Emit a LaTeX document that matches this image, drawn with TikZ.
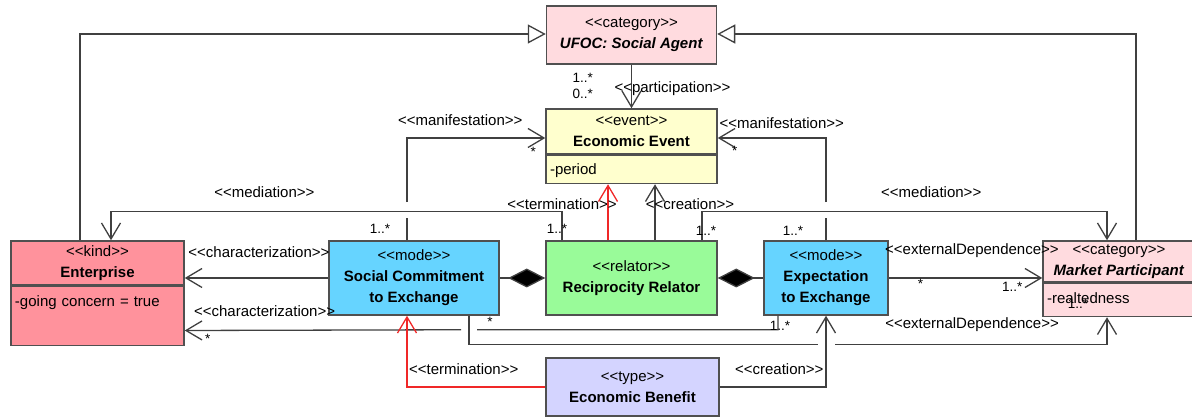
\documentclass[tikz,border=0pt]{standalone}
\usepackage{fontspec}
\setmainfont{Liberation Sans}
\usepackage{tikz}
\usetikzlibrary{
  arrows.meta,
  positioning
}
\definecolor{agentpink}{RGB}{255,219,223}
\definecolor{entred}{RGB}{255,146,156}
\definecolor{modeblue}{RGB}{102,212,255}
\definecolor{relgreen}{RGB}{153,251,153}
\definecolor{eventyellow}{RGB}{255,255,206}
\definecolor{benlav}{RGB}{212,212,255}
\definecolor{boxgray}{RGB}{80,80,80}
\definecolor{linegray}{RGB}{64,64,64}
\definecolor{termred}{RGB}{240,40,40}
\newcommand{\ster}[1]{<\kern0pt<#1>\kern0pt>}
\tikzset{
  cls/.style={draw=boxgray, line width=1.5pt, align=center, inner sep=0pt,
    font=\fontsize{15}{21}\selectfont},
  attr/.style={draw=boxgray, line width=1.5pt, align=left, inner xsep=4pt,
    inner ysep=0pt, font=\fontsize{15}{18}\selectfont},
  lbl/.style={inner sep=0pt, font=\fontsize{15}{18}\selectfont},
  mult/.style={inner sep=0pt, font=\fontsize{13.5}{16}\selectfont},
  assoc/.style={draw=linegray, line width=1.3pt,
    -{Straight Barb[length=16pt, width=19pt]}},
  term/.style={assoc, draw=termred},
  gen/.style={draw=linegray, line width=1.3pt,
    -{Triangle[open, fill=white, length=18pt, width=19pt]}},
  comp/.style={draw=linegray, line width=1.3pt,
    {Diamond[fill=black, length=37pt, width=19pt]}-}
}
\begin{document}
\begin{tikzpicture}[x=1pt, y=-1pt]
  \useasboundingbox (0,0) rectangle (1192,419);
  % classes
  \node[cls, fill=agentpink, minimum width=170pt, minimum height=58pt] (agent) at (631.5,35)
    {\ster{category}\\\textbf{\textit{UFOC: Social Agent}}};
  \node[cls, fill=eventyellow, minimum width=171pt, minimum height=45pt] (event) at (631.5,131.5)
    {\ster{event}\\\textbf{Economic Event}};
  \node[attr, fill=eventyellow, below=0pt of event, text width=163pt,
    text height=19pt, text depth=9pt] (event-att) {-period};
  \node[cls, fill=entred, minimum width=173pt, minimum height=44pt] (ent) at (97.5,263)
    {\ster{kind}\\\textbf{Enterprise}};
  \node[attr, fill=entred, below=0pt of ent, text width=165pt,
    text height=20pt, text depth=39pt] (ent-att) {-going concern = true};
  \node[cls, fill=modeblue, minimum width=170pt, minimum height=74pt] (sc) at (414,278)
    {\ster{mode}\\\textbf{Social Commitment}\\\textbf{to Exchange}};
  \node[cls, fill=relgreen, minimum width=171pt, minimum height=74pt] (rel) at (631.5,278)
    {\ster{relator}\\\textbf{Reciprocity Relator}};
  \node[cls, fill=modeblue, minimum width=124pt, minimum height=74pt] (exp) at (826,278)
    {\ster{mode}\\\textbf{Expectation}\\\textbf{to Exchange}};
  \node[cls, fill=agentpink, minimum width=152pt, minimum height=41pt] (mp) at (1119,261.5)
    {\ster{category}\\\textbf{\textit{Market Participant}}};
  \node[attr, fill=agentpink, below=0pt of mp, text width=144pt,
    text height=20pt, text depth=13pt] (mp-att) {-realtedness};
  \node[cls, fill=benlav, minimum width=173pt, minimum height=58pt] (ben) at (632.5,387)
    {\ster{type}\\\textbf{Economic Benefit}};

  % generalizations
  \draw[gen] ([xshift=-17.5pt]ent.north) |- ([yshift=1pt]agent.west);
  \draw[gen] ([xshift=17pt]mp.north) |- ([yshift=1pt]agent.east);

  % participation
  \draw[assoc] (agent.south) -- (event.north)
    node[mult, pos=0.29, left=38pt] {1..*}
    node[mult, pos=0.67, left=38pt] {0..*}
    node[lbl, pos=0.56, xshift=41pt] {\ster{participation}};

  % manifestations
  \draw[assoc] ([xshift=-7pt]sc.north) node[mult, xshift=-27pt, yshift=11pt] {1..*}
    -- ++(0,-22) ++(0,-16) |- ([yshift=-6.5pt]event.west)
    node[lbl, at end, xshift=-85pt, yshift=18pt] {\ster{manifestation}}
    node[mult, at end, xshift=-12pt, yshift=-14pt] {*};
  \draw[assoc] (exp.north) node[mult, xshift=-33pt, yshift=9pt] {1..*}
    -- ++(0,-22) ++(0,-16) |- ([yshift=-6.5pt]event.east)
    node[lbl, at end, xshift=64pt, yshift=15pt] {\ster{manifestation}}
    node[mult, at end, xshift=17pt, yshift=-13pt] {*};

  % mediations
  \draw[assoc] ([xshift=-69.5pt]rel.north) node[mult, xshift=-5pt, yshift=11pt] {1..*}
    -- ++(0,-29) -| ([xshift=13.5pt]ent.north)
    node[lbl, pos=0.33, above=13pt] {\ster{mediation}};
  \draw[assoc] ([xshift=70.5pt]rel.north) node[mult, xshift=4pt, yshift=9pt] {1..*}
    -- ++(0,-29) -| ([xshift=-12pt]mp.north)
    node[lbl, pos=0.283, above=13pt] {\ster{mediation}};

  % event termination and creation
  \draw[term] ([xshift=-23.5pt]rel.north) -- ([xshift=-23.5pt]event-att.south)
    node[lbl, pos=0.644, xshift=-46pt] {\ster{termination}};
  \draw[assoc] ([xshift=23.5pt]rel.north) -- ([xshift=23.5pt]event-att.south)
    node[lbl, pos=0.644, xshift=35pt] {\ster{creation}};

  % compositions
  \draw[comp] (rel) -- (sc);
  \draw[comp] (rel) -- (exp);

  % characterizations
  \draw[assoc] (sc.west) -- (sc.west -| ent.east)
    node[lbl, pos=0.483, above=20pt] {\ster{characterization}};
  \draw[assoc] ([xshift=-48pt]exp.south) node[mult, xshift=2pt, yshift=-10pt] {1..*}
    -- ++(0,14) -- ++(-301,0) ++(-16,0) -- ([yshift=-14.5pt]ent-att.east)
    node[lbl, pos=0.711, above=13pt] {\ster{characterization}}
    node[mult, at end, xshift=23pt, yshift=-8pt] {*};

  % external dependences
  \draw[assoc] (exp.east) -- (exp.east -| mp.west)
    node[lbl, pos=0.542, above=20pt] {\ster{externalDependence}}
    node[mult, pos=0.206, below=1pt] {*}
    node[mult, at end, xshift=-30pt, yshift=-9pt] {1..*};
  \draw[assoc] ([xshift=55pt]sc.south) node[mult, xshift=21pt, yshift=-6pt] {*}
    -- ++(0,29) -- ++(349,0) ++(17,0) -| ([xshift=-12pt]mp-att.south)
    node[lbl, pos=0.252, above=12pt] {\ster{externalDependence}}
    node[mult, at end, xshift=-29pt, yshift=13pt] {1..*};

  % benefit termination and creation
  \draw[term] (ben.west) -| ([xshift=-7pt]sc.south)
    node[lbl, pos=0.295, above=12pt] {\ster{termination}};
  \draw[assoc] (ben.east) -| (exp.south)
    node[lbl, pos=0.28, above=12pt] {\ster{creation}};
\end{tikzpicture}
\end{document}
